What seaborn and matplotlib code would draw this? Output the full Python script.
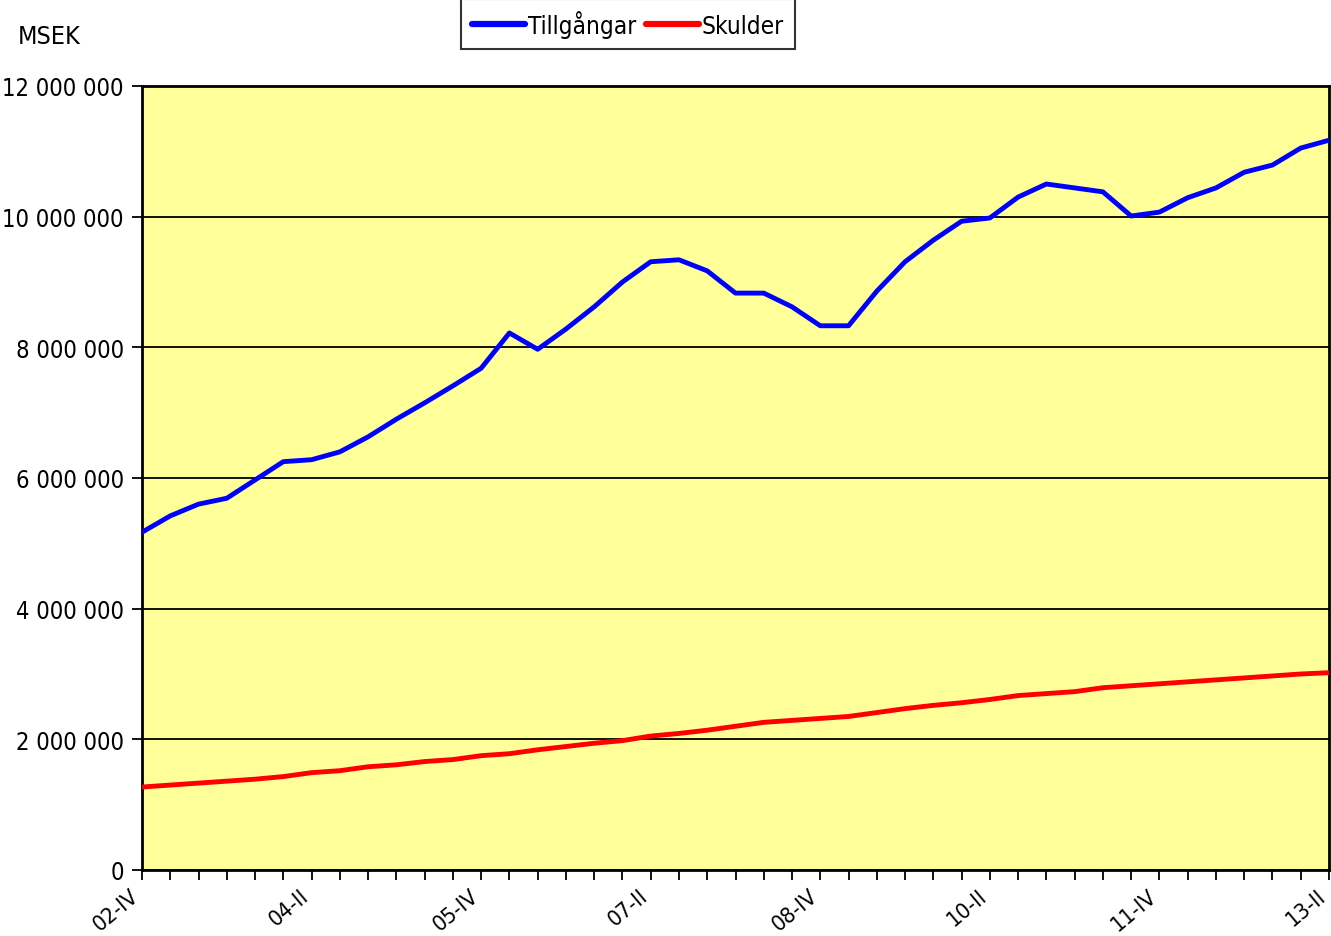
import pandas as pd
import matplotlib.pyplot as plt
import matplotlib.transforms as mtransforms
import seaborn as sns
from matplotlib.ticker import FuncFormatter, MultipleLocator

# Kvartal 02-IV .. 13-II
years = list(range(2002, 2014))
roman = ['I', 'II', 'III', 'IV']
quarters = []
for y in years:
    for q in roman:
        quarters.append(f"{str(y)[2:]}-{q}")
quarters = quarters[quarters.index('02-IV'):quarters.index('13-II') + 1]

tillgangar = [5170000, 5420000, 5600000, 5690000, 5970000, 6250000, 6280000, 6400000,
              6630000, 6900000, 7150000, 7410000, 7680000, 8220000, 7970000, 8280000,
              8620000, 9000000, 9310000, 9340000, 9170000, 8830000, 8830000, 8620000,
              8330000, 8330000, 8860000, 9310000, 9640000, 9930000, 9980000, 10300000,
              10500000, 10440000, 10380000, 10010000, 10070000, 10290000, 10440000,
              10680000, 10790000, 11050000, 11170000]
skulder = [1270000, 1300000, 1330000, 1360000, 1390000, 1430000, 1490000, 1520000,
           1580000, 1610000, 1660000, 1690000, 1750000, 1780000, 1840000, 1890000,
           1940000, 1980000, 2050000, 2090000, 2140000, 2200000, 2260000, 2290000,
           2320000, 2350000, 2410000, 2470000, 2520000, 2560000, 2610000, 2670000,
           2700000, 2730000, 2790000, 2820000, 2850000, 2880000, 2910000, 2940000,
           2970000, 3000000, 3020000]

df = pd.DataFrame({
    'pos': list(range(len(quarters))) * 2,
    'value': tillgangar + skulder,
    'serie': ['Tillgångar'] * len(quarters) + ['Skulder'] * len(quarters),
})

sns.set_style('white')
plt.rcParams['font.family'] = ['DejaVu Sans']
plt.rcParams['font.stretch'] = 'condensed'
plt.rcParams['text.color'] = 'black'
plt.rcParams['xtick.color'] = 'black'
plt.rcParams['ytick.color'] = 'black'

fig = plt.figure(figsize=(13.31, 9.37), dpi=100)
ax = fig.add_axes([142 / 1331, 66 / 937, 1187 / 1331, 784 / 937])
ax.set_facecolor('#FFFF99')

sns.lineplot(data=df, x='pos', y='value', hue='serie',
             palette={'Tillgångar': '#0000FF', 'Skulder': '#FF0000'},
             linewidth=3.5, ax=ax, zorder=3)

ax.set_xlim(0, len(quarters) - 1)
ax.set_ylim(0, 12000000)
ax.yaxis.set_major_locator(MultipleLocator(2000000))
ax.yaxis.set_major_formatter(FuncFormatter(lambda v, p: f"{int(v):,}".replace(',', ' ')))
ax.grid(axis='y', color='black', linewidth=1.3, zorder=1)
ax.set_axisbelow(True)

major = list(range(0, len(quarters), 6))
ax.set_xticks(major)
ax.set_xticklabels([quarters[i] for i in major], rotation=40, ha='right', va='top',
                   rotation_mode='anchor')
ax.set_xticks(range(len(quarters)), minor=True)
ax.tick_params(axis='x', which='both', direction='out', length=7, width=1.3,
               labelsize=16, pad=4, bottom=True)
ax.tick_params(axis='y', direction='out', length=7, width=1.3, labelsize=17,
               pad=6, left=True)
# flytta etiketterna lite åt vänster så att 13-II får plats
shift = mtransforms.ScaledTranslation(-12 / 100, 0, fig.dpi_scale_trans)
for lab in ax.get_xticklabels():
    lab.set_transform(lab.get_transform() + shift)
for s in ax.spines.values():
    s.set_color('black')
    s.set_linewidth(2)

ax.set_xlabel('')
ax.set_ylabel('')
ax.get_legend().remove()

handles, labels = ax.get_legend_handles_labels()
leg = fig.legend(handles, labels, loc='upper left', bbox_to_anchor=(461 / 1331, 1.0),
                 ncol=2, fontsize=17.5, frameon=True, fancybox=False,
                 edgecolor='black', handlelength=2.2, handletextpad=0.1,
                 columnspacing=0.4, borderpad=0.45, borderaxespad=0)
leg.get_frame().set_linewidth(1.5)
for line in leg.get_lines():
    line.set_linewidth(4.5)

fig.text(18 / 1331, 1 - 37 / 937, 'MSEK', fontsize=18, va='center', ha='left')

fig.savefig('out.png', dpi=100)
